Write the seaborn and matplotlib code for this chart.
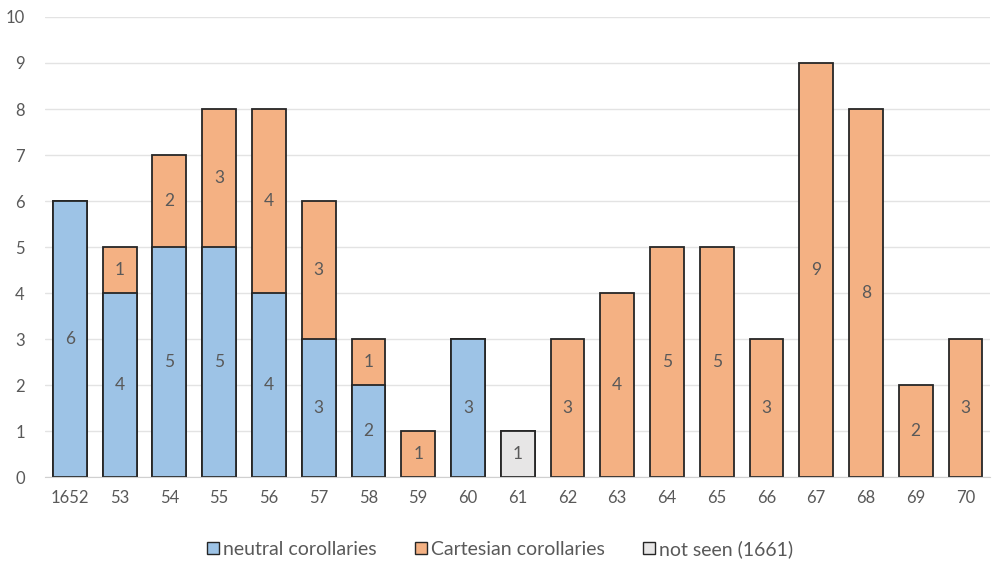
import numpy as np
import pandas as pd
import matplotlib
matplotlib.use("Agg")
import matplotlib.pyplot as plt
import seaborn as sns
from matplotlib.patches import Patch

years = ["1652", "53", "54", "55", "56", "57", "58", "59", "60", "61",
         "62", "63", "64", "65", "66", "67", "68", "69", "70"]
neutral = [6, 4, 5, 5, 4, 3, 2, 0, 3, 0, 0, 0, 0, 0, 0, 0, 0, 0, 0]
cartesian = [0, 1, 2, 3, 4, 3, 1, 1, 0, 0, 3, 4, 5, 5, 3, 9, 8, 2, 3]
not_seen = [0, 0, 0, 0, 0, 0, 0, 0, 0, 1, 0, 0, 0, 0, 0, 0, 0, 0, 0]

c_neutral = "#9DC3E6"
c_cart = "#F4B183"
c_notseen = "#E7E6E6"
edge = "#262626"
txt = "#595959"

sns.set_style("white")
plt.rcParams["font.family"] = ["Lato", "DejaVu Sans"]

df = pd.DataFrame({"year": years, "neutral": neutral,
                   "cartesian": cartesian, "not_seen": not_seen})
df["total"] = df["neutral"] + df["cartesian"] + df["not_seen"]
df["neutral_v"] = df["neutral"].replace(0, np.nan)
df["not_seen_v"] = df["not_seen"].replace(0, np.nan)

fig = plt.figure(figsize=(9.94, 5.66), dpi=100)
ax = fig.add_axes([0.0453, 0.157, 0.951, 0.813])

bar_kw = dict(width=0.68, edgecolor=edge, linewidth=1.3, saturation=1, ax=ax,
              order=years)
# stacked look: total height in orange, lower segments painted over it
sns.barplot(data=df, x="year", y="total", color=c_cart, **bar_kw)
sns.barplot(data=df, x="year", y="neutral_v", color=c_neutral, **bar_kw)
sns.barplot(data=df, x="year", y="not_seen_v", color=c_notseen, **bar_kw)

for i, (n, c, s) in enumerate(zip(neutral, cartesian, not_seen)):
    if n:
        ax.text(i, n / 2, str(n), ha="center", va="center", color=txt, fontsize=12.5)
    if c:
        ax.text(i, n + s + c / 2, str(c), ha="center", va="center", color=txt, fontsize=12.5)
    if s:
        ax.text(i, n + s / 2, str(s), ha="center", va="center", color=txt, fontsize=12.5)

ax.set_xlim(-0.5, len(years) - 0.5)
ax.set_ylim(0, 10)
ax.set_yticks(range(0, 11))
ax.yaxis.grid(True, color="#E3E3E3", linewidth=1)
ax.set_axisbelow(True)
ax.set_xlabel("")
ax.set_ylabel("")
for side in ["top", "right", "left"]:
    ax.spines[side].set_visible(False)
ax.spines["bottom"].set_color("#D0D0D0")
ax.tick_params(axis="both", colors=txt, labelsize=12, length=0)
ax.tick_params(axis="x", pad=9)
ax.tick_params(axis="y", pad=14.5)

handles = [Patch(facecolor=c_neutral, edgecolor=edge, label="neutral corollaries"),
           Patch(facecolor=c_cart, edgecolor=edge, label="Cartesian corollaries"),
           Patch(facecolor=c_notseen, edgecolor=edge, label="not seen (1661)")]
leg = fig.legend(handles=handles, loc="center", bbox_to_anchor=(0.503, 0.03), ncol=3,
                 frameon=False, fontsize=14, handlelength=0.6, handleheight=0.6,
                 handletextpad=0.2, columnspacing=2.0)
for t in leg.get_texts():
    t.set_color(txt)

fig.savefig("out.png", dpi=100)
